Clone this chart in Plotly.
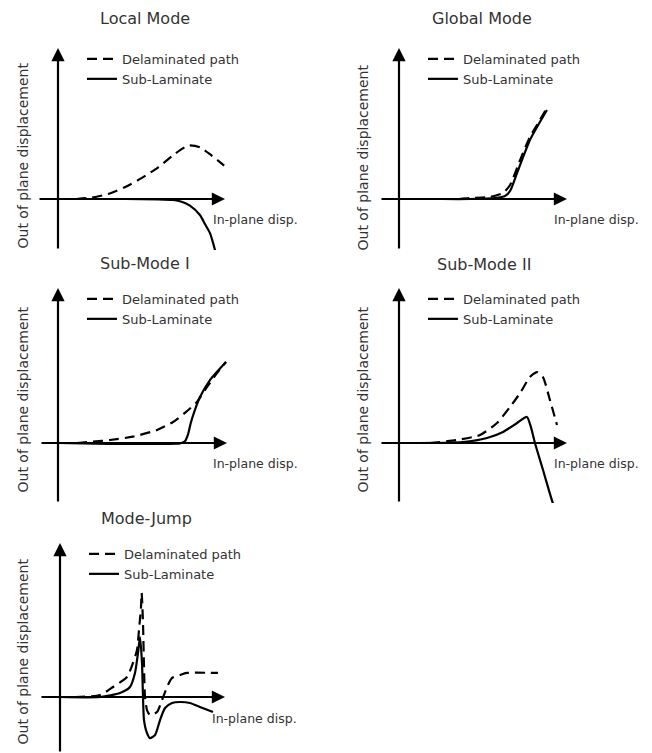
import plotly.graph_objects as go

W, H = 652, 753
S = 16.7  # pixels per data unit (same on both axes)

# ---------------- data ----------------
titles = ["Local Mode", "Global Mode", "Sub-Mode I", "Sub-Mode II", "Mode-Jump"]
legend_names = ["Delaminated path", "Sub-Laminate"]
x_label = "In-plane disp."
y_label = "Out of plane displacement"

local_dash_x = [1.1, 2.0, 3.0, 4.0, 5.0, 6.0, 7.0, 7.8, 8.5, 9.2, 9.95]
local_dash_y = [0.0, 0.08, 0.3, 0.7, 1.25, 1.9, 2.7, 3.2, 3.1, 2.6, 2.0]
local_solid_x = [0.0, 2.0, 4.0, 6.0, 6.9, 7.4, 7.9, 8.5, 8.8, 9.1, 9.4, 9.6]
local_solid_y = [0.0, 0.0, 0.0, -0.02, -0.06, -0.16, -0.4, -0.96, -1.5, -2.04, -3.05, -3.9]

global_dash_x = [3.6, 4.25, 5.45, 6.23, 6.65, 7.25, 7.84, 8.44, 8.86]
global_dash_y = [0.0, 0.06, 0.12, 0.36, 0.84, 2.33, 3.71, 4.73, 5.45]
global_solid_x = [0.0, 2.0, 4.25, 5.75, 6.35, 6.65, 7.07, 7.84, 8.44, 8.86]
global_solid_y = [0.0, 0.0, 0.0, 0.06, 0.18, 0.48, 1.56, 3.53, 4.61, 5.33]

sub1_dash_x = [1.14, 2.1, 3.11, 4.49, 5.93, 6.89, 7.6, 8.32, 8.92, 9.52, 10.06]
sub1_dash_y = [0.0, 0.08, 0.18, 0.38, 0.78, 1.26, 1.8, 2.46, 3.35, 4.19, 4.85]
sub1_solid_x = [0.0, 3.0, 6.0, 7.3, 7.6, 7.78, 7.95, 8.2, 8.5, 9.1, 10.06]
sub1_solid_y = [0.0, -0.05, -0.05, -0.03, 0.1, 0.5, 1.2, 1.98, 2.75, 3.77, 4.85]

sub2_dash_x = [1.86, 3.47, 4.85, 5.87, 6.65, 7.25, 7.84, 8.26, 8.62, 9.04, 9.46]
sub2_dash_y = [0.0, 0.18, 0.48, 1.2, 2.16, 2.99, 3.95, 4.25, 3.95, 2.57, 1.08]
sub2_solid_x = [0.48, 3.83, 5.27, 6.23, 7.07, 7.66, 7.9, 8.14, 8.62, 9.04, 9.34, 9.6]
sub2_solid_y = [0.0, 0.06, 0.3, 0.66, 1.2, 1.56, 0.95, 0.0, -1.6, -3.05, -4.0, -4.6]

jump_dash_x = [0.9, 2.4, 3.17, 4.01, 4.37, 4.61, 4.73, 4.85, 4.89, 4.97, 5.03, 5.09,
               5.21, 5.39, 5.81, 6.11, 6.41, 6.71, 7.19, 7.6, 9.46]
jump_dash_y = [0.0, 0.12, 0.6, 1.2, 2.04, 2.81, 4.01, 5.39, 6.23, 4.43, 1.8, 0.0,
               -0.78, -1.08, -0.9, -0.18, 0.6, 1.14, 1.32, 1.44, 1.44]
jump_solid_x = [0.0, 2.4, 3.59, 4.19, 4.49, 4.67, 4.79, 4.91, 4.97, 5.03, 5.21, 5.39,
                5.69, 5.99, 6.29, 6.71, 7.19, 7.78, 8.38, 9.16]
jump_solid_y = [0.0, 0.0, 0.24, 0.6, 1.44, 2.63, 3.59, 2.04, 0.0, -1.38, -2.16, -2.46,
                -2.28, -1.38, -0.66, -0.36, -0.3, -0.36, -0.6, -0.9]

series = [
    (local_dash_x, local_dash_y, local_solid_x, local_solid_y),
    (global_dash_x, global_dash_y, global_solid_x, global_solid_y),
    (sub1_dash_x, sub1_dash_y, sub1_solid_x, sub1_solid_y),
    (sub2_dash_x, sub2_dash_y, sub2_solid_x, sub2_solid_y),
    (jump_dash_x, jump_dash_y, jump_solid_x, jump_solid_y),
]

# ---------------- layout geometry (pixels) ----------------
panels = [
    dict(ox=58, oy=199, top=48, bottom=250, left=38, tip=225, tx=145, ty=19, lx=255, ly=220, yl=156),
    dict(ox=399, oy=199, top=48, bottom=250, left=380, tip=567, tx=482, ty=19, lx=596, ly=220, yl=157),
    dict(ox=58, oy=443, top=288, bottom=503, left=40, tip=227, tx=145, ty=263, lx=255, ly=463, yl=400),
    dict(ox=399, oy=443, top=288, bottom=503, left=380, tip=567, tx=484, ty=264, lx=596, ly=463, yl=399),
    dict(ox=60, oy=697, top=543, bottom=753, left=40, tip=225, tx=146, ty=518, lx=254, ly=718, yl=652),
]

FONT = "DejaVu Sans"
TXT = "#333333"


def px_x(p):
    return p / W


def px_y(p):
    return 1 - p / H


fig = go.Figure()
layout = dict(width=W, height=H, margin=dict(l=0, r=0, t=0, b=0),
              paper_bgcolor="white", plot_bgcolor="rgba(0,0,0,0)",
              showlegend=True, font=dict(family=FONT, color=TXT))
annotations = []

for i, (p, (dx, dy, sx, sy)) in enumerate(zip(panels, series)):
    n = "" if i == 0 else str(i + 1)
    xa, ya = "x" + n, "y" + n
    leg = "legend" + n
    ox, oy = p["ox"], p["oy"]
    d_left, d_right = ox - 32, ox + 190
    d_top, d_bot = p["top"] - 8, p["bottom"]
    layout["xaxis" + n] = dict(domain=[px_x(d_left), px_x(d_right)],
                               range=[(d_left - ox) / S, (d_right - ox) / S],
                               visible=False, fixedrange=True, anchor=ya)
    layout["yaxis" + n] = dict(domain=[px_y(d_bot), px_y(d_top)],
                               range=[-(d_bot - oy) / S, (oy - d_top) / S],
                               visible=False, fixedrange=True, anchor=xa)
    fig.add_trace(go.Scatter(x=dx, y=dy, mode="lines", name=legend_names[0],
                             line=dict(color="black", width=2.2, dash="10px,6px",
                                       shape="spline", smoothing=0.6),
                             xaxis=xa, yaxis=ya, legend=leg, hoverinfo="skip"))
    fig.add_trace(go.Scatter(x=sx, y=sy, mode="lines", name=legend_names[1],
                             line=dict(color="black", width=2.2,
                                       shape="spline", smoothing=0.6),
                             xaxis=xa, yaxis=ya, legend=leg, hoverinfo="skip"))
    layout[leg] = dict(x=px_x(ox + 24), y=px_y(p["top"] - 4), xanchor="left", yanchor="top",
                       bgcolor="rgba(0,0,0,0)", borderwidth=0,
                       font=dict(family=FONT, size=13, color=TXT),
                       itemwidth=30, tracegroupgap=0)
    # axis arrows
    annotations.append(dict(x=(p["tip"] - ox) / S, y=0, ax=(p["left"] - ox) / S, ay=0,
                            xref=xa, yref=ya, axref=xa, ayref=ya, text="",
                            showarrow=True, arrowhead=2, arrowsize=1.2, arrowwidth=2.2,
                            arrowcolor="black"))
    annotations.append(dict(x=0, y=(oy - p["top"]) / S, ax=0, ay=-(p["bottom"] - oy) / S,
                            xref=xa, yref=ya, axref=xa, ayref=ya, text="",
                            showarrow=True, arrowhead=2, arrowsize=1.2, arrowwidth=2.2,
                            arrowcolor="black"))
    # texts
    annotations.append(dict(x=px_x(p["tx"]), y=px_y(p["ty"]), xref="paper", yref="paper",
                            text=titles[i], showarrow=False, xanchor="center", yanchor="middle",
                            font=dict(family=FONT, size=16, color=TXT)))
    annotations.append(dict(x=px_x(p["lx"]), y=px_y(p["ly"]), xref="paper", yref="paper",
                            text=x_label, showarrow=False, xanchor="center", yanchor="middle",
                            font=dict(family=FONT, size=12.5, color=TXT)))
    annotations.append(dict(x=px_x(22.5 if ox < 200 else 362.5), y=px_y(p["yl"]),
                            xref="paper", yref="paper", text=y_label, textangle=-90,
                            showarrow=False, xanchor="center", yanchor="middle",
                            font=dict(family=FONT, size=14, color=TXT)))

layout["annotations"] = annotations
fig.update_layout(**layout)
fig.write_html("out.html", config={"displayModeBar": False},
               post_script="document.body.style.margin='0';document.body.style.padding='0';")
